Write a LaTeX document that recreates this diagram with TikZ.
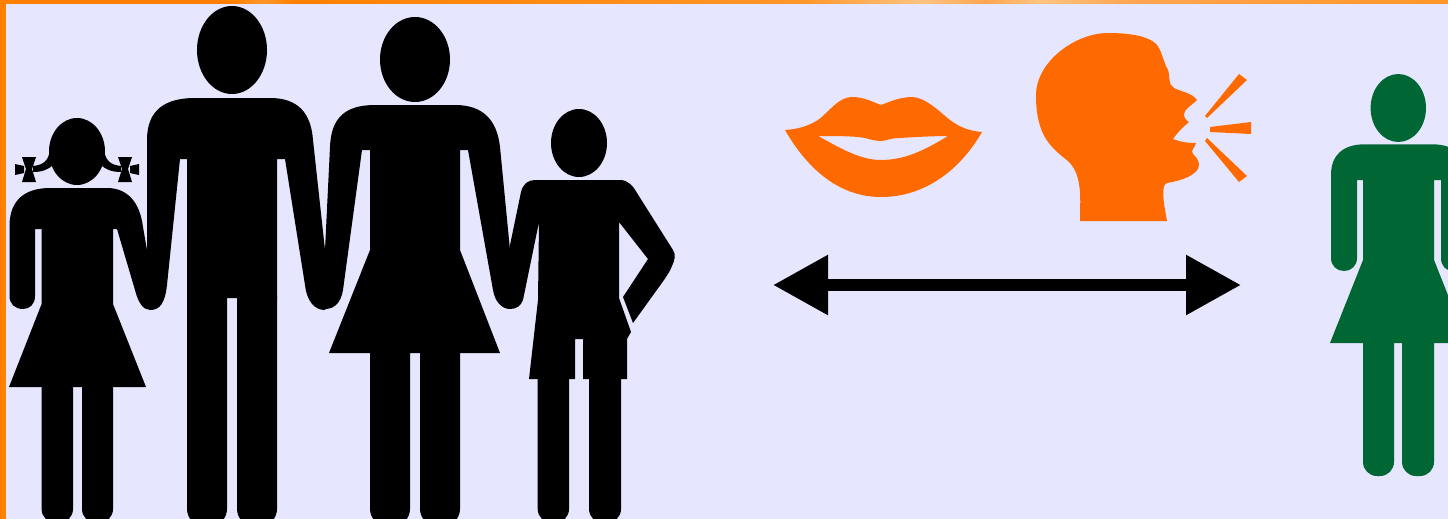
\documentclass[tikz,border=0pt]{standalone}
\usetikzlibrary{arrows.meta}
\usepackage{xcolor}
\definecolor{vpage}{RGB}{230,230,255}
\definecolor{vframe}{RGB}{255,128,0}
\definecolor{vframeb}{RGB}{255,150,40}
\definecolor{vframec}{RGB}{255,195,130}
\definecolor{vframed}{RGB}{255,165,80}
\definecolor{vlips}{RGB}{255,106,0}
\definecolor{vgreen}{RGB}{0,102,51}
\newcommand{\girlbow}{%
  \fill[family] (50,146) .. controls (50,160) and (44,165) .. (33,166) -- (33,172)
    .. controls (43,172) and (49,169) .. (53,165) -- cycle;
  \fill[family] (22,157) -- (36,157) -- (32,169) -- (36,182) -- (22,182) -- (26,169) -- cycle;
  \fill[family] (15,164) -- (24,166) -- (24,173) -- (15,175) -- cycle;}
\begin{document}
\begin{tikzpicture}[x=1pt,y=-1pt,
    family/.style={fill=black},
    speaker/.style={fill=vlips},
    listener/.style={fill=vgreen},
    talk/.style={draw=black,line width=12pt,{Triangle[length=55pt,width=57pt]}-{Triangle[length=55pt,width=57pt]}}]
    \useasboundingbox (0,0) rectangle (1448,519);
    \clip (0,0) rectangle (1448,519);
    \fill[vpage] (0,0) rectangle (1448,519);
    % frame
    \fill[vframe] (0,0) rectangle (6,519);
    \foreach \xa/\ca/\xb/\cb in {0/vframe/230/vframe,230/vframe/262/vframeb,262/vframeb/295/vframe,
        295/vframe/800/vframeb,800/vframeb/923/vframec,923/vframec/985/vframed,
        985/vframed/1040/vframec,1040/vframec/1130/vframed,1130/vframed/1448/vframeb}
      \shade[left color=\ca,right color=\cb] (\xa,0) rectangle (\xb,4);
    % man
    \fill[family] (232,50) ellipse [x radius=35,y radius=44];
    \fill[family] (147,140) .. controls (147,110) and (165,98) .. (195,98) -- (270,98)
      .. controls (298,98) and (311,113) .. (313,140) -- (325,250) -- (330,300) -- (325,310)
      .. controls (315,310) and (307,302) .. (305,285) -- (285,159) -- (277,159) -- (277,298)
      -- (187,298) -- (187,159) -- (180,159) -- (167,285)
      .. controls (165,303) and (160,310) .. (150,310) -- (147,250) -- cycle;
    \foreach \xa/\xb in {187/227,237/277}
      \fill[family,rounded corners=17pt] (\xa,280) rectangle (\xb,526);
    % woman
    \fill[family] (415,59.5) ellipse [x radius=35,y radius=42.5];
    \fill[family] (330,147) .. controls (331,118) and (345,105) .. (375,105) -- (455,105)
      .. controls (483,105) and (497,120) .. (500,147) -- (510,250) -- (514,300) -- (510,309)
      .. controls (502,309) and (495,302) .. (493,290) -- (468,150) -- (460,150) -- (460,250)
      -- (500,353) -- (329,353) -- (370,250) -- (370,150) -- (362,150) -- (343,290)
      .. controls (341,302) and (335,309) .. (325,309) -- (325,250) -- cycle;
    \foreach \xa/\xb in {370/410,420/460}
      \fill[family,rounded corners=17pt] (\xa,335) rectangle (\xb,526);
    % girl
    \fill[family] (77,151.5) ellipse [x radius=28,y radius=33.5];
    \girlbow
    \begin{scope}[xshift=154pt,xscale=-1]
      \girlbow
    \end{scope}
    \fill[family] (9.5,225) .. controls (10,200) and (25,188) .. (50,188) -- (107,188)
      .. controls (128,188) and (140,203) .. (143,227) -- (147,250) -- (155,300) -- (150,310)
      .. controls (143,310) and (138,302) .. (135,290) -- (117,229) -- (113,229) -- (113,304)
      -- (146,387) -- (9,387) -- (41.6,304) -- (41.6,229) -- (35,229) -- (35,296)
      .. controls (35,304) and (30,309) .. (23,309)
      .. controls (15,309) and (9.5,304) .. (9.5,296) -- cycle;
    \foreach \xa/\xb in {41.6/73,82/113}
      \fill[family,rounded corners=14pt] (\xa,370) rectangle (\xb,523);
    % boy
    \fill[family] (579,143) ellipse [x radius=28,y radius=34];
    \fill[family] (521,192) .. controls (523,184) and (528,180) .. (535,180) -- (620,180)
      .. controls (628,180) and (633,186) .. (637,193) -- (673,250)
      .. controls (676,255) and (675,259) .. (672,266) .. controls (670,271) and (668,274) .. (664,280)
      -- (633,323) -- (623,297) -- (648,259) -- (619,222) -- (619,298) -- (631,332) -- (627,339)
      -- (627,379) -- (583,379) -- (583,339) -- (575,339) -- (575,379) -- (529,379) -- (538,300)
      -- (539,222) -- (523,300) .. controls (521,306) and (516,309) .. (510,309) -- (505,300) -- (509,250) -- cycle;
    \foreach \xa/\xb in {537.7/569,589/621}
      \fill[family,rounded corners=14pt] (\xa,362) rectangle (\xb,523);
    % lips
    \fill[speaker,even odd rule] (785,130) .. controls (800,129) and (810,125) .. (818,120)
      .. controls (828,113) and (838,97) .. (852,97) .. controls (864,97) and (873,102) .. (881,105)
      .. controls (889,102) and (900,97) .. (912,97) .. controls (925,97) and (940,112) .. (950,120)
      .. controls (958,126) and (968,131) .. (982,132) .. controls (960,170) and (925,197) .. (881,197)
      .. controls (840,197) and (808,170) .. (785,130) -- cycle
      (818,136) .. controls (835,136) and (855,136) .. (865,138) .. controls (872,140) and (877,141) .. (881,141)
      .. controls (886,141) and (890,138) .. (900,138) .. controls (915,137) and (935,136) .. (948,136)
      .. controls (925,150) and (905,160) .. (881,160) .. controls (860,160) and (840,148) .. (818,136) -- cycle;
    % speaking head
    \fill[speaker] (1080,221) .. controls (1080,200) and (1083,175) .. (1068,161)
      .. controls (1050,147) and (1036,135) .. (1036,95) .. controls (1036,62) and (1075,33) .. (1108,33)
      .. controls (1130,33) and (1155,36) .. (1160,50) .. controls (1164,60) and (1165,65) .. (1168,70)
      .. controls (1170,75) and (1168,85) .. (1174,88) .. controls (1182,92) and (1192,93) .. (1197,100)
      .. controls (1192,105) and (1183,110) .. (1184,115) .. controls (1184,118) and (1187,121) .. (1189,122)
      .. controls (1183,127) and (1177,133) .. (1173,139) .. controls (1180,142) and (1188,143) .. (1196,143)
      .. controls (1195,148) and (1190,150) .. (1193,154) .. controls (1196,157) and (1199,160) .. (1199,165)
      .. controls (1199,175) and (1180,181) .. (1167,183) .. controls (1161,185) and (1163,200) .. (1167,221) -- cycle;
    \fill[speaker] (1205,116) -- (1207,118) -- (1247,80) -- (1239,74) -- cycle;
    \fill[speaker] (1210,127) -- (1251,122) -- (1251,134) -- (1210,132) -- cycle;
    \fill[speaker] (1207,138) -- (1205,141) -- (1239,182) -- (1247,176) -- cycle;
    % two-way arrow
    \coordinate (talkl) at (773,285);
    \coordinate (talkr) at (1241,285);
    \draw[talk] (talkl) -- (talkr);
    % listener
    \fill[listener] (1398.3,108) ellipse [x radius=27.7,y radius=34];
    \fill[listener] (1331,175) .. controls (1331,155) and (1343,144.3) .. (1365,144.3) -- (1432,144.3)
      .. controls (1454,144.3) and (1466,155) .. (1466,175) -- (1466,258)
      .. controls (1466,266) and (1460,271) .. (1453,271)
      .. controls (1446,271) and (1441,266) .. (1441,258) -- (1441,180) -- (1434,180) -- (1434,260)
      -- (1467,343) -- (1330,343) -- (1363,260) -- (1363,180) -- (1357,180) -- (1357,258)
      .. controls (1357,266) and (1351,271) .. (1344,271)
      .. controls (1337,271) and (1331,266) .. (1331,258) -- cycle;
    \foreach \xa/\xb in {1363/1394,1402/1434}
      \fill[listener,rounded corners=14pt] (\xa,325) rectangle (\xb,476);
  \end{tikzpicture}
\end{document}
